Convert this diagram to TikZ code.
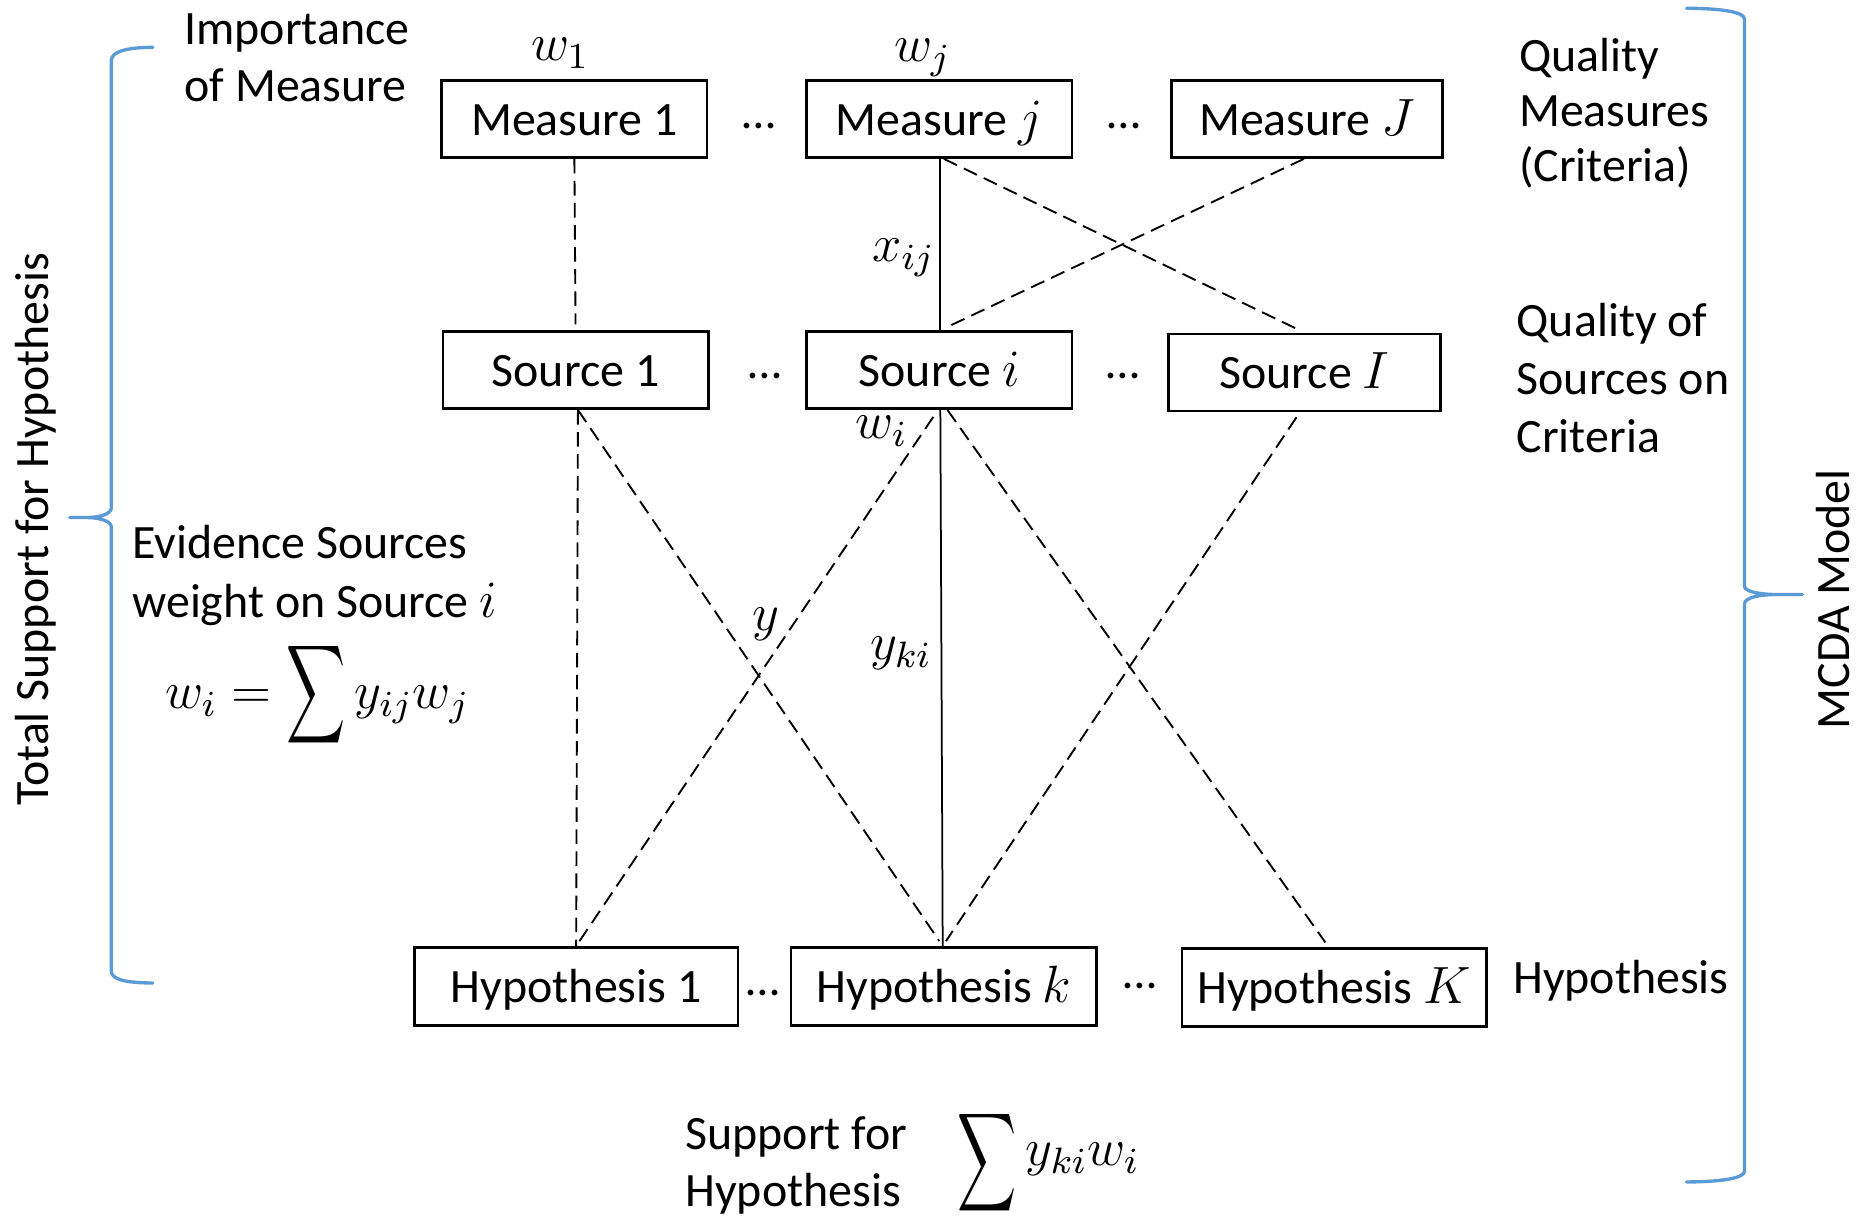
\RequirePackage{fix-cm}
\documentclass[tikz,border=0pt]{standalone}
\usepackage{fontspec}
\setmainfont{Carlito}
\usetikzlibrary{calc}
\definecolor{braceblue}{RGB}{91,155,213}
\newcommand{\lbl}{\fontsize{11.5}{13.8}\selectfont}
% math set a little larger than the surrounding text
\newcommand{\mth}[1]{{\fontsize{12.6}{15}\selectfont$#1$}}
\newcommand{\bigsum}{\mathop{\vcenter{\hbox{\resizebox*{0.5cm}{0.93cm}{$\displaystyle\sum$}}}}}

\begin{document}
\begin{tikzpicture}[x=0.01cm, y=-0.01cm, font=\lbl,
  box/.style={draw, line width=0.65pt, inner sep=0pt, minimum height=0.65cm,
              text height=0.3cm, text depth=0.03cm},
  txt/.style={inner sep=0pt, anchor=base west},
  mlbl/.style={inner sep=0pt, anchor=base},
  dots/.style={inner sep=0pt, anchor=base},
  lnk/.style={line width=0.45pt, dash pattern=on 3.5pt off 1.8pt},
  solidlnk/.style={line width=0.42pt},
  brace/.style={draw=braceblue, line width=0.8pt, line cap=round, line join=round}]

\useasboundingbox (0,0) rectangle (1568,1028);

% quality measures (criteria)
\node[box, minimum width=2.24cm] (m1) at (485,100.5) {Measure 1};
\node[box, minimum width=2.24cm] (mj) at (793,100.5) {Measure \mth{j}};
\node[box, minimum width=2.29cm] (mJ) at (1103.5,100.5) {Measure \mth{J}};
\node[dots] (dm1) at (641,108.5) {…};
\node[dots] (dm2) at (949,108.5) {…};

% evidence sources
\node[box, minimum width=2.24cm] (s1) at (486,312.5) {Source 1};
\node[box, minimum width=2.24cm] (si) at (793,312.5) {Source \mth{i}};
\node[box, minimum width=2.29cm] (sI) at (1101.5,314.5) {Source \mth{I}};
\node[dots] (ds1) at (646,319.5) {…};
\node[dots] (ds2) at (948,319.5) {…};

% hypotheses
\node[box, minimum width=2.73cm, minimum height=0.66cm] (h1) at (486.5,833) {Hypothesis 1};
\node[box, minimum width=2.58cm, minimum height=0.66cm] (hk) at (797,833) {Hypothesis \mth{k}};
\node[box, minimum width=2.57cm, minimum height=0.66cm] (hK) at (1126.5,834) {Hypothesis \mth{K}};
\node[dots] (dh1) at (644,840.5) {…};
\node[dots] (dh2) at (962.5,835) {…};

% measure -> source links
\draw[lnk, shorten >=0.05cm] (m1.south) -- (s1.north);
\draw[solidlnk] ([xshift=0.01cm]mj.south) -- ([xshift=0.01cm]si.north);
\draw[lnk, shorten >=0.05cm] ([xshift=0.04cm]mj.south) -- (sI.north);
\draw[lnk, shorten >=0.06cm] ([xshift=-0.025cm]mJ.south) -- ([xshift=0.01cm]si.north);

% source -> hypothesis links
\draw[lnk] ([xshift=0.02cm]s1.south) -- (h1.north);
\draw[lnk, shorten >=0.05cm] ([xshift=0.02cm]s1.south) -- ([xshift=-0.01cm]hk.north);
\draw[lnk, shorten <=0.07cm] ([xshift=-0.01cm]si.south) -- (h1.north);
\draw[solidlnk] ([xshift=0.01cm]si.south) -- ([xshift=-0.01cm]hk.north);
\draw[lnk, shorten >=0.05cm] ([xshift=0.07cm]si.south) -- ([xshift=-0.045cm]hK.north);
\draw[lnk, shorten <=0.05cm, shorten >=0.05cm] ([xshift=-0.04cm]sI.south) -- ([xshift=-0.01cm]hk.north);

% weights and link labels
\node[mlbl] (w1) at (473,51) {\mth{w_1}};
\node[mlbl] (wj) at (779,52) {\mth{w_j}};
\node[inner sep=0pt, anchor=base east] (xij) at (790,221) {\mth{x_{ij}}};
\node[inner sep=0pt, anchor=base east] (wi) at (767,370) {\mth{w_i}};
\node[inner sep=0pt] (yl) at (647,527) {\mth{y}};
\node[txt] (yki) at (734,557) {\mth{y_{ki}}};

% left-hand descriptions
\node[txt] (imp1) at (155,38) {Importance};
\node[txt] (imp2) at (155,86) {of Measure};
\node[txt] (ev1) at (111,472) {Evidence Sources};
\node[txt] (ev2) at (111,521) {weight on Source \mth{i}};
\node[mlbl] (form) at (268,598) {\mth{w_i = \bigsum y_{ij}w_j}};

% right-hand descriptions
\node[txt] (qm1) at (1282,60.5) {Quality};
\node[txt] (qm2) at (1282,107) {Measures};
\node[txt] (qm3) at (1282,153.5) {(Criteria)};
\node[txt] (qs1) at (1280,284) {Quality of};
\node[txt] (qs2) at (1280,333) {Sources on};
\node[txt] (qs3) at (1280,382) {Criteria};
\node[txt] (hyp) at (1277,839) {Hypothesis};

% support for hypothesis
\node[txt] (sup1) at (578,971) {Support for};
\node[txt] (sup2) at (578,1019) {Hypothesis};
\node[txt] (sup3) at (808,993) {\mth{\bigsum\raisebox{0.09cm}{\mth{y_{ki}w_i}}}};

% group braces
\draw[brace] (129,40) .. controls (106,40) and (94,44) .. (94,51)
  -- (94,429) .. controls (94,434) and (84,437) .. (73,437) -- (59,437)
  -- (73,437) .. controls (84,437) and (94,440) .. (94,445)
  -- (94,820) .. controls (94,827) and (106,830) .. (129,830);
\draw[brace] (1424,7) .. controls (1452,7) and (1473,10) .. (1473,16)
  -- (1473,495) .. controls (1473,500) and (1488,502) .. (1500,502) -- (1522,502)
  -- (1500,502) .. controls (1488,502) and (1473,504) .. (1473,510)
  -- (1473,989) .. controls (1473,995) and (1452,998) .. (1424,998);
\node[rotate=90, inner sep=0pt, anchor=base] (tot) at (41,447) {Total Support for Hypothesis};
\node[rotate=90, inner sep=0pt, anchor=base] (mcda) at (1562,506) {MCDA Model};
\end{tikzpicture}
\end{document}
